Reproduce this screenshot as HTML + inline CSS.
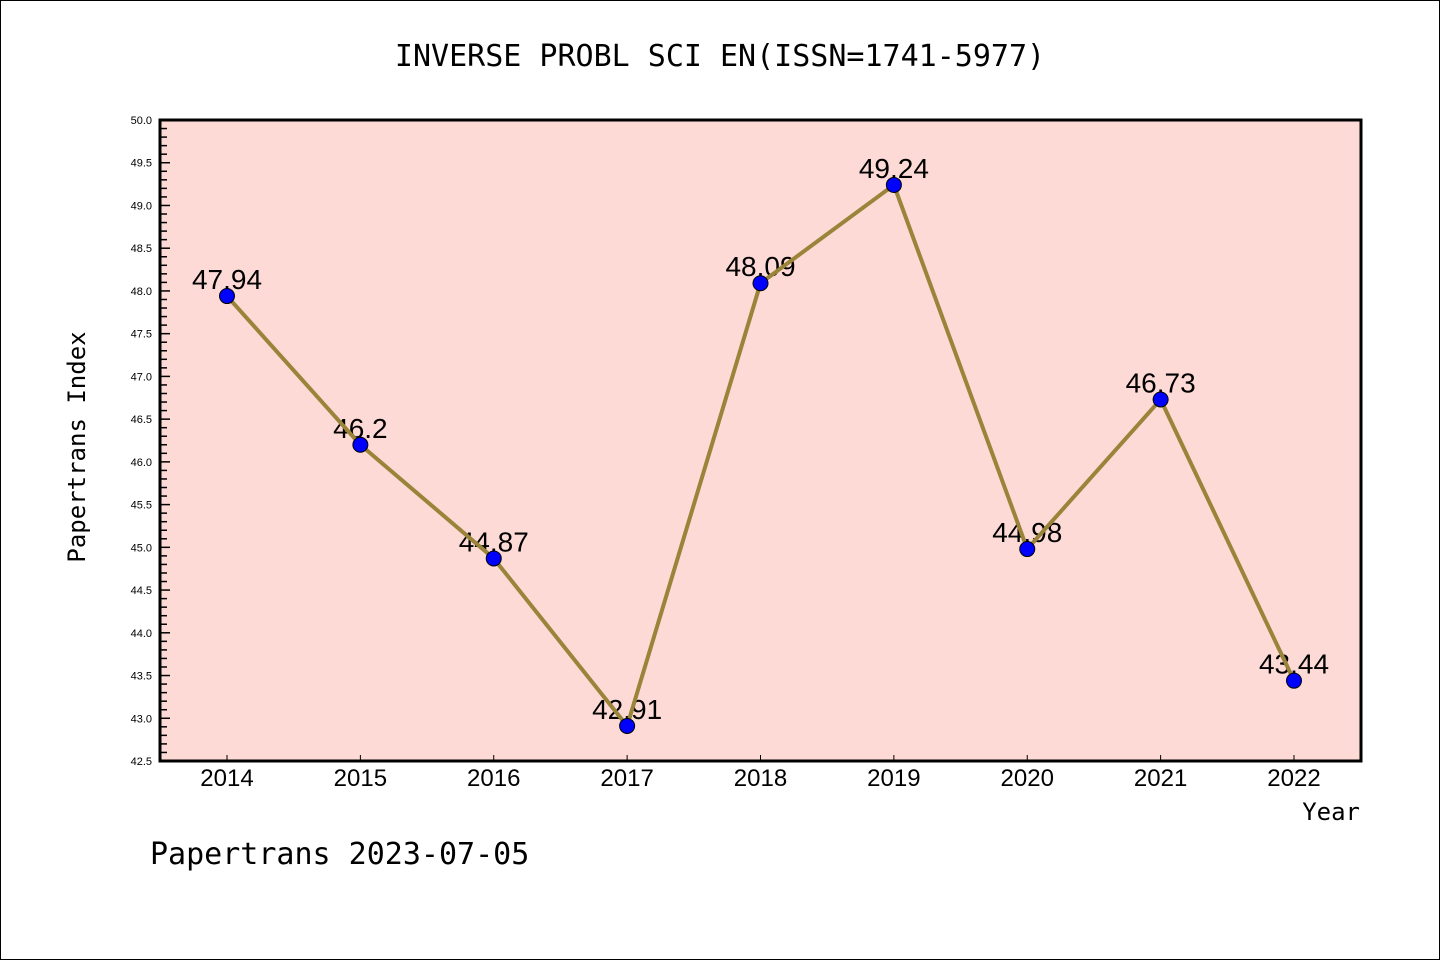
<!DOCTYPE html>
<html><head><meta charset="utf-8"><style>
html,body{margin:0;padding:0;background:#fff;}
svg{display:block;font-family:"Liberation Sans","DejaVu Sans",sans-serif;}
</style></head><body>
<svg id="chart" width="1440" height="960">
<rect x="0.5" y="0.5" width="1439" height="959" fill="#fff" stroke="#000"/>
<text x="720" y="66" text-anchor="middle" font-size="30" font-family="'DejaVu Sans Mono','Liberation Mono',monospace">INVERSE PROBL SCI EN(ISSN=1741-5977)</text>
<rect x="160" y="120" width="1201" height="641" fill="#fddad6"/>
<g id="yticks"></g><g id="xticks"></g><g id="labels"></g><g id="series"></g>
<rect x="160" y="120" width="1201" height="641" fill="none" stroke="#000" stroke-width="3"/>
<text transform="translate(85,447) rotate(-90)" text-anchor="middle" font-size="24" font-family="'DejaVu Sans Mono','Liberation Mono',monospace">Papertrans Index</text>
<text x="1360" y="820" text-anchor="end" font-size="24" font-family="'DejaVu Sans Mono','Liberation Mono',monospace">Year</text>
<text x="150" y="864" font-size="30" font-family="'DejaVu Sans Mono','Liberation Mono',monospace">Papertrans 2023-07-05</text>
</svg>
<script>
const years = [2014,2015,2016,2017,2018,2019,2020,2021,2022];
const values = [47.94,46.2,44.87,42.91,48.09,49.24,44.98,46.73,43.44];
const valueLabels = ["47.94","46.2","44.87","42.91","48.09","49.24","44.98","46.73","43.44"];
const yMin = 42.5, yMax = 50.0;
const NS = "http://www.w3.org/2000/svg";
function y(v){return 120 + (yMax - v)/(yMax - yMin)*641;}
function x(i){return 227 + i*(1294-227)/(years.length-1);}
function mk(tag, attrs, parent){const e=document.createElementNS(NS,tag);for(const k in attrs)e.setAttribute(k,attrs[k]);parent.appendChild(e);return e;}
const yt=document.getElementById('yticks');
for(let k=0;k<=75;k++){
  const v=yMin+k*0.1; const yy=y(v); const major=(k%5===0);
  const t=mk('line',{x1:160,x2:160+(major?10:7),y1:yy,y2:yy,stroke:'#000','stroke-width':1.5},yt);
  
  
  if(major){
    const tx=mk('text',{x:152,y:yy+4,'text-anchor':'end','font-size':11},yt);
    tx.textContent=v.toFixed(1);
    
    
  }
}
const xt=document.getElementById('xticks');
years.forEach((yr,i)=>{
  const t=mk('line',{x1:x(i),x2:x(i),y1:761,y2:755,stroke:'#000','stroke-width':1},xt);
  
  
  const tx=mk('text',{x:x(i),y:786,'text-anchor':'middle','font-size':24},xt);
  tx.textContent=yr;
  
  
});
const lb=document.getElementById('labels');
values.forEach((v,i)=>{
  const tx=mk('text',{x:x(i),y:y(v)-7,'text-anchor':'middle','font-size':28},lb);
  tx.textContent=valueLabels[i];
  
  
});
const sr=document.getElementById('series');
const pl=mk('polyline',{points:values.map((v,i)=>x(i)+','+y(v)).join(' '),fill:'none',stroke:'#9a8439','stroke-width':4,'stroke-linejoin':'round'},sr);


values.forEach((v,i)=>{
  const c=mk('circle',{cx:x(i),cy:y(v),r:7.5,fill:'#0000ff',stroke:'#000','stroke-width':1},sr);
  
  
});
</script>
</body></html>
